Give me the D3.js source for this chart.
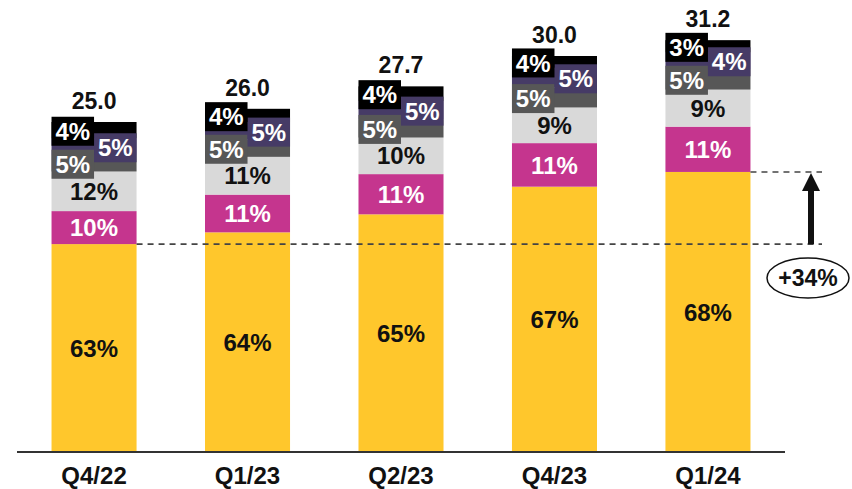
<!DOCTYPE html>
<html>
<head>
<meta charset="utf-8">
<script src="https://cdn.jsdelivr.net/npm/d3@7"></script>
<style>
  body { margin: 0; background: #fff; }
  text { font-family: "Liberation Sans", Arial, sans-serif; font-weight: bold; }
</style>
</head>
<body>
<svg id="chart" width="852" height="489"></svg>
<script>
const quarters = ["Q4/22", "Q1/23", "Q2/23", "Q4/23", "Q1/24"];
const totals = [25.0, 26.0, 27.7, 30.0, 31.2];

// shares per segment, bottom to top
const segYellow = [63, 64, 65, 67, 68];
const segMagenta = [10, 11, 11, 11, 11];
const segLightGray = [12, 11, 10, 9, 9];
const segDarkGray = [5, 5, 5, 5, 5];
const segNavy = [5, 5, 5, 5, 4];
const segBlack = [4, 4, 4, 4, 3];

const growthLabel = "+34%";

const segments = [
  { key: "yellow", values: segYellow, color: "#FFC72C", text: "#111", box: false },
  { key: "magenta", values: segMagenta, color: "#C5358E", text: "#fff", box: false },
  { key: "lightgray", values: segLightGray, color: "#D9D9D9", text: "#111", box: false },
  { key: "darkgray", values: segDarkGray, color: "#575757", text: "#fff", box: "left" },
  { key: "navy", values: segNavy, color: "#463B66", text: "#fff", box: "right" },
  { key: "black", values: segBlack, color: "#000000", text: "#fff", box: "left" },
];

const svg = d3.select("#chart");

const x = d3
  .scaleBand()
  .domain(quarters)
  .range([17, 785])
  .paddingInner(0.446)
  .paddingOuter(0.225);

const y = d3.scaleLinear().domain([0, 34]).range([452, 3.2]);

// build stacked rows
let rows = [];
quarters.forEach((q, i) => {
  let cum = 0;
  segments.forEach((s, j) => {
    const start = cum;
    cum += s.values[i];
    let v0 = (start / 100) * totals[i];
    let v1 = (cum / 100) * totals[i];
    if (j === segments.length - 1) v1 = totals[i];
    rows.push({ q: q, i: i, seg: s, pct: s.values[i], v0: v0, v1: v1 });
  });
});

const bw = x.bandwidth();

svg
  .append("g")
  .selectAll("rect")
  .data(rows)
  .join("rect")
  .attr("x", (d) => x(d.q))
  .attr("y", (d) => y(d.v1))
  .attr("width", bw)
  .attr("height", (d) => y(d.v0) - y(d.v1))
  .attr("fill", (d) => d.seg.color);

// inside labels
const inner = rows.filter((d) => !d.seg.box);
svg
  .append("g")
  .selectAll("text")
  .data(inner)
  .join("text")
  .attr("x", (d) => x(d.q) + bw / 2)
  .attr("y", (d) => (y(d.v0) + y(d.v1)) / 2)
  .attr("dy", "0.36em")
  .attr("text-anchor", "middle")
  .attr("font-size", 24)
  .attr("fill", (d) => d.seg.text)
  .text((d) => d.pct + "%");

// boxed labels for the small top segments
const boxH = 29;
const boxed = rows.filter((d) => d.seg.box);
const boxG = svg
  .append("g")
  .selectAll("g")
  .data(boxed)
  .join("g")
  .attr("transform", (d) => {
    const bx = d.seg.box === "left" ? x(d.q) : x(d.q) + bw / 2;
    const cy = (y(d.v0) + y(d.v1)) / 2 + 1;
    return `translate(${bx},${cy})`;
  });

boxG
  .append("rect")
  .attr("x", 0)
  .attr("y", -boxH / 2)
  .attr("width", bw / 2)
  .attr("height", boxH)
  .attr("fill", (d) => d.seg.color);

boxG
  .append("text")
  .attr("x", bw / 4)
  .attr("dy", "0.36em")
  .attr("text-anchor", "middle")
  .attr("font-size", 24)
  .attr("fill", "#fff")
  .text((d) => d.pct + "%");

// totals above bars
svg
  .append("g")
  .selectAll("text")
  .data(quarters)
  .join("text")
  .attr("x", (q) => x(q) + bw / 2)
  .attr("y", (q, i) => y(totals[i]) - 13)
  .attr("text-anchor", "middle")
  .attr("font-size", 23)
  .attr("fill", "#111")
  .text((q, i) => totals[i].toFixed(1));

// baseline axis
const axis = svg
  .append("g")
  .attr("transform", `translate(0,${y(0)})`)
  .call(d3.axisBottom(x).tickSize(0).tickPadding(15));
axis.select(".domain").attr("stroke", "#333").attr("stroke-width", 2).attr("d", "M17,0H785");
axis
  .selectAll(".tick text")
  .attr("font-size", 24)
  .attr("fill", "#111")
  .attr("font-family", "Liberation Sans, Arial, sans-serif");

// growth annotation
const first = 0;
const last = quarters.length - 1;
const yLow = y((segYellow[first] / 100) * totals[first]);
const yHigh = y((segYellow[last] / 100) * totals[last]);
const arrowX = 811;

svg
  .append("line")
  .attr("x1", x(quarters[first]) + bw)
  .attr("x2", 822)
  .attr("y1", yLow)
  .attr("y2", yLow)
  .attr("stroke", "#444")
  .attr("stroke-width", 1.6)
  .attr("stroke-dasharray", "6,5");

svg
  .append("line")
  .attr("x1", x(quarters[last]) + bw)
  .attr("x2", 822)
  .attr("y1", yHigh)
  .attr("y2", yHigh)
  .attr("stroke", "#444")
  .attr("stroke-width", 1.6)
  .attr("stroke-dasharray", "6,5");

svg
  .append("rect")
  .attr("x", arrowX - 3)
  .attr("y", yHigh + 16)
  .attr("width", 6)
  .attr("height", yLow - yHigh - 16)
  .attr("fill", "#111");

svg
  .append("path")
  .attr("d", `M${arrowX - 9},${yHigh + 19}L${arrowX},${yHigh + 1}L${arrowX + 9},${yHigh + 19}Z`)
  .attr("fill", "#111");

svg
  .append("ellipse")
  .attr("cx", 808)
  .attr("cy", 278)
  .attr("rx", 41)
  .attr("ry", 20)
  .attr("fill", "#fff")
  .attr("stroke", "#111")
  .attr("stroke-width", 1.5);

svg
  .append("text")
  .attr("x", 808)
  .attr("y", 278)
  .attr("dy", "0.36em")
  .attr("text-anchor", "middle")
  .attr("font-size", 23)
  .attr("fill", "#111")
  .text(growthLabel);
</script>
</body>
</html>
